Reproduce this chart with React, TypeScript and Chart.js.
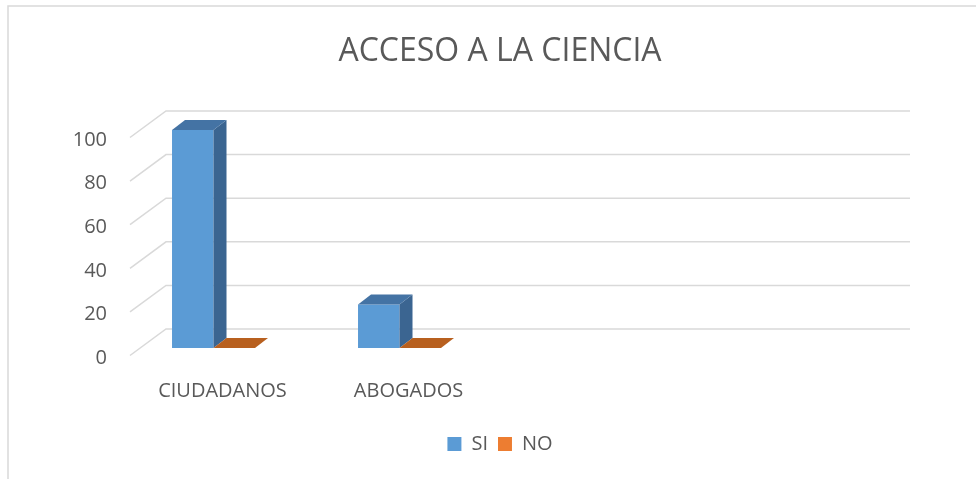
import React, { useEffect, useRef } from "react";
import { Chart, registerables } from "chart.js";

Chart.register(...registerables);

const titleText = "ACCESO A LA CIENCIA";
const categories = ["CIUDADANOS", "ABOGADOS", "", ""];
const seriesNames = ["SI", "NO"];
const siValues: (number | null)[] = [100, 20, null, null];
const noValues: (number | null)[] = [0, 0, null, null];
const yTickValues = [0, 20, 40, 60, 80, 100];

const frontColors = ["#5B9BD5", "#ED7D31"];
const sideColors = ["#3B6591", "#9E4F1B"];
const topColors = ["#4473A4", "#B8601F"];
const textColor = "#595959";
const gridColor = "#D9D9D9";
const FONT = "'Open Sans', 'Noto Sans', sans-serif";

const DEPTH_X = 13;
const DEPTH_Y = -10;

const borderPlugin = {
  id: "frameBorder",
  beforeDraw(chart: any) {
    const { ctx, width, height } = chart;
    ctx.save();
    ctx.fillStyle = "#FFFFFF";
    ctx.fillRect(0, 0, width, height);
    ctx.strokeStyle = gridColor;
    ctx.lineWidth = 1.5;
    ctx.beginPath();
    ctx.moveTo(8, height);
    ctx.lineTo(8, 6);
    ctx.lineTo(width, 6);
    ctx.stroke();
    ctx.restore();
  },
};

const grid3dPlugin = {
  id: "grid3d",
  beforeDatasetsDraw(chart: any) {
    const { ctx, chartArea } = chart;
    const y = chart.scales.y;
    const frontX = chartArea.left + 9.5;
    const backX = frontX + 36;
    const rightX = chartArea.right + 45.5;
    ctx.save();
    ctx.strokeStyle = gridColor;
    ctx.lineWidth = 1.5;
    yTickValues.forEach((v) => {
      const yb = y.getPixelForValue(v);
      ctx.beginPath();
      ctx.moveTo(frontX, yb + 7.5);
      ctx.lineTo(backX, yb - 19);
      ctx.lineTo(rightX, yb - 19);
      ctx.stroke();
    });
    ctx.restore();
  },
};

const bar3dPlugin = {
  id: "bar3d",
  afterDatasetsDraw(chart: any) {
    const ctx = chart.ctx;
    ctx.save();
    chart.data.datasets.forEach((ds: any, i: number) => {
      const meta = chart.getDatasetMeta(i);
      meta.data.forEach((el: any, j: number) => {
        if (ds.data[j] == null) return;
        const { x, y, base, width } = el.getProps(["x", "y", "base", "width"], true);
        const l = x - width / 2;
        const r = x + width / 2;
        if (base - y > 0.5) {
          ctx.fillStyle = sideColors[i];
          ctx.beginPath();
          ctx.moveTo(r, y);
          ctx.lineTo(r + DEPTH_X, y + DEPTH_Y);
          ctx.lineTo(r + DEPTH_X, base + DEPTH_Y);
          ctx.lineTo(r, base);
          ctx.closePath();
          ctx.fill();
        }
        ctx.fillStyle = topColors[i];
        ctx.beginPath();
        ctx.moveTo(l, y);
        ctx.lineTo(r, y);
        ctx.lineTo(r + DEPTH_X, y + DEPTH_Y);
        ctx.lineTo(l + DEPTH_X, y + DEPTH_Y);
        ctx.closePath();
        ctx.fill();
      });
    });
    ctx.restore();
  },
};

export default function App() {
  const canvasRef = useRef<HTMLCanvasElement | null>(null);

  useEffect(() => {
    if (!canvasRef.current) return;
    const chart = new Chart(canvasRef.current, {
      type: "bar",
      data: {
        labels: categories,
        datasets: [
          {
            label: seriesNames[0],
            data: siValues,
            backgroundColor: frontColors[0],
            borderWidth: 0,
            barPercentage: 1,
            categoryPercentage: 0.446,
          },
          {
            label: seriesNames[1],
            data: noValues,
            backgroundColor: frontColors[1],
            borderWidth: 0,
            barPercentage: 1,
            categoryPercentage: 0.446,
          },
        ],
      },
      options: {
        responsive: false,
        animation: false,
        events: [],
        layout: { padding: { left: 24, right: 0, top: 0, bottom: 15 } },
        plugins: {
          title: {
            display: true,
            text: titleText,
            color: textColor,
            font: { family: FONT, size: 32, weight: "normal" },
            padding: { top: 33, bottom: 58.6 },
          },
          legend: {
            position: "bottom",
            labels: {
              boxWidth: 14,
              boxHeight: 14,
              padding: 10,
              color: textColor,
              font: { family: FONT, size: 20 },
            },
          },
          tooltip: { enabled: false },
        },
        scales: {
          x: {
            grid: { display: false, drawTicks: false },
            border: { display: false },
            ticks: {
              color: textColor,
              font: { family: FONT, size: 20 },
              padding: 31,
              labelOffset: 9,
              autoSkip: false,
              maxRotation: 0,
            },
            afterFit: (s: any) => {
              s.height = 76;
            },
          },
          y: {
            min: 0,
            max: 100,
            grid: { display: false, drawTicks: false },
            border: { display: false },
            ticks: {
              stepSize: 20,
              color: textColor,
              font: { family: FONT, size: 20 },
              padding: 13.5,
              labelOffset: 10,
            },
            afterFit: (s: any) => {
              s.width = 96.5;
            },
          },
          yRight: {
            position: "right",
            display: true,
            grid: { display: false, drawTicks: false },
            border: { display: false },
            ticks: { display: false },
            afterFit: (s: any) => {
              s.width = 111.5;
            },
          },
        },
      } as any,
      plugins: [borderPlugin, grid3dPlugin, bar3dPlugin],
    });
    return () => chart.destroy();
  }, []);

  return (
    <div style={{ position: "fixed", left: 0, top: 0, width: 976, height: 479 }}>
      <canvas ref={canvasRef} width={976} height={479} style={{ display: "block" }} />
    </div>
  );
}
